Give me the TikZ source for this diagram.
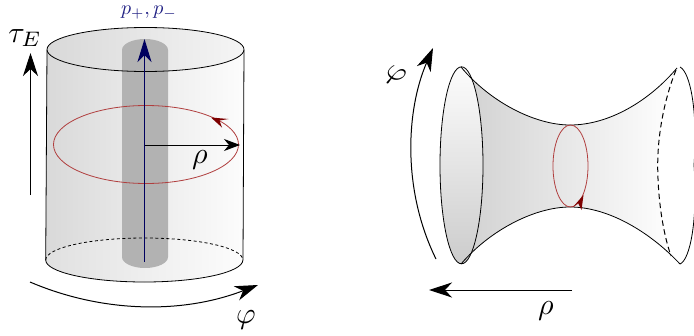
\documentclass[tikz,border=0pt]{standalone}
\usetikzlibrary{arrows.meta}
\definecolor{loopred}{RGB}{176,62,62}
\definecolor{tipred}{RGB}{125,0,0}
\definecolor{axisblue}{RGB}{0,0,95}
\definecolor{labelblue}{RGB}{30,30,130}
\tikzset{
  bigtip/.style={-{Stealth[length=23pt,width=15pt,inset=7pt]}},
  midtip/.style={-{Stealth[length=16pt,width=12pt,inset=5pt]}},
  outline/.style={black,line width=0.8pt},
  guide/.style={black,line width=1pt},
  loopline/.style={loopred,line width=0.8pt},
  lab/.style={inner sep=0pt,text=black,scale=3},
  plab/.style={inner sep=0pt,text=labelblue,scale=2},
}
\begin{document}
\begin{tikzpicture}[x=1pt,y=-1pt]
\useasboundingbox (0,0) rectangle (694,335);
% ---- cylinder ----
\path[left color=black!15,right color=black!1]
  (47,50) -- (45.7,260) arc[start angle=180,end angle=360,x radius=98.6pt,y radius=22pt] -- (244,50)
  arc[start angle=0,end angle=180,x radius=98.5pt,y radius=22pt] -- cycle;
\path[left color=black!15,right color=black!4] (145.5,49.5) ellipse[x radius=98.5pt,y radius=22pt];
\path[left color=black!12,right color=black!1] (144.3,260) ellipse[x radius=98.6pt,y radius=22pt];
% stripe
\path[fill=black!30] (122,50) -- (122,257) arc[start angle=180,end angle=360,x radius=23pt,y radius=11pt] -- (168,50)
  arc[start angle=0,end angle=180,x radius=23pt,y radius=11pt] -- cycle;
% outlines
\draw[outline] (47,50) -- (45.7,260);
\draw[outline] (244,50) -- (243,260);
\draw[outline] (145.5,49.5) ellipse[x radius=98.5pt,y radius=22pt];
\draw[outline] (45.7,260) arc[start angle=180,end angle=360,x radius=98.6pt,y radius=22pt];
\draw[outline,dashed,dash pattern=on 3pt off 2.5pt] (45.7,260) arc[start angle=180,end angle=0,x radius=98.6pt,y radius=22pt];
% loop
\draw[loopline] (146,144.5) ellipse[x radius=92.5pt,y radius=39pt];
\draw[draw=none,fill=tipred] (211,117.5) -- (228.5,119) -- (219.5,120.5) -- (222,127.5) -- cycle;
% axis and radius
\coordinate (axisbot) at (144.5,262);
\coordinate (axistop) at (144.5,39);
\draw[axisblue,line width=1.1pt,-{Stealth[length=23pt,width=14pt,inset=7pt]}] (axisbot) -- (axistop);
\coordinate (rhoa) at (145,145);
\coordinate (rhob) at (240,145);
\draw[guide,midtip] (rhoa) -- (rhob);
\node[lab] (rholeft) at (200,160) {$\rho$};
\node[plab] (plabel) at (149,13) {$p_+,p_-$};
% tau
\coordinate (taua) at (30.5,195);
\coordinate (taub) at (30.5,53);
\draw[guide,bigtip] (taua) -- (taub);
\node[lab] (taulabel) at (25,38) {$\tau_E$};
% phi left
\coordinate (phia) at (30,282);
\coordinate (phib) at (258,285);
\draw[guide,bigtip] (phia) .. controls (100,312) and (180,315) .. (phib);
\node[lab] (philabela) at (246,320) {$\varphi$};
% ---- funnel ----
\path[left color=black!18,right color=white]
  (461,67) .. controls (490,102) and (535,125) .. (570,125)
  .. controls (610,125) and (650,100) .. (677,68)
  .. controls (650,130) and (652,200) .. (673,258)
  .. controls (650,232) and (610,207) .. (570,207)
  .. controls (535,207) and (490,230) .. (461,264) -- cycle;
\draw[outline,top color=black!1,bottom color=black!20] (461.5,165.3) ellipse[x radius=21.5pt,y radius=98.5pt];
\draw[outline] (461,67) .. controls (490,102) and (535,125) .. (570,125)
  .. controls (610,125) and (650,100) .. (677,68);
\draw[outline] (461,264) .. controls (490,230) and (535,207) .. (570,207)
  .. controls (610,207) and (652,234) .. (680,264);
\draw[outline] (680,67) .. controls (690,72) and (698,110) .. (694,165) .. controls (698,220) and (690,260) .. (680,264);
\draw[outline,line width=1pt,dashed,dash pattern=on 5.5pt off 3.5pt] (676,70) .. controls (664,100) and (657.7,135) .. (657.7,165)
  .. controls (657.7,195) and (662,230) .. (671,256);
% throat loop
\draw[loopline] (570.5,166) ellipse[x radius=17.5pt,y radius=41pt];
\draw[draw=none,fill=tipred] (583.5,195) -- (581.5,210) -- (578,203) -- (573,207) -- cycle;
% phi right
\coordinate (phic) at (436,259);
\coordinate (phid) at (433,48);
\draw[guide,bigtip] (phic) .. controls (402,190) and (406,110) .. (phid);
\node[lab,rotate=-25] (philabelb) at (395,76) {$\varphi$};
% rho right
\coordinate (rhoc) at (572,290);
\coordinate (rhod) at (429,290);
\draw[guide,bigtip] (rhoc) -- (rhod);
\node[lab] (rhoright) at (546,311) {$\rho$};
\end{tikzpicture}
\end{document}
